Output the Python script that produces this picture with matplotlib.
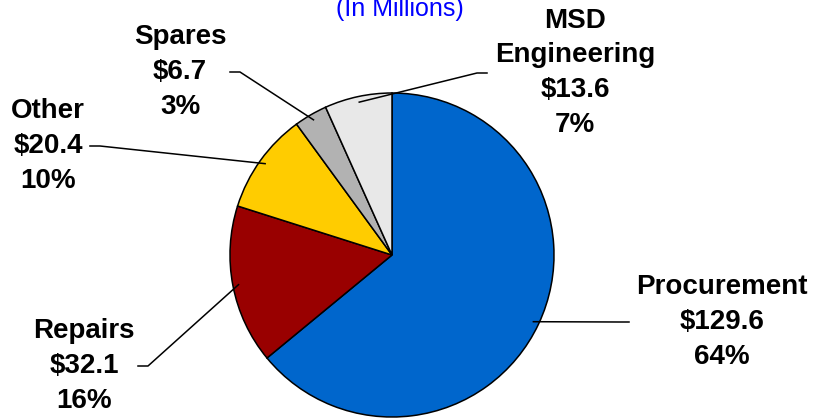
import matplotlib
matplotlib.use("Agg")
import matplotlib.pyplot as plt
import numpy as np

categories = ["Procurement", "Repairs", "Other", "Spares", "MSD\nEngineering"]
amounts = [129.6, 32.1, 20.4, 6.7, 13.6]
percents = ["64%", "16%", "10%", "3%", "7%"]
colors = ["#0066CC", "#990000", "#FFCC00", "#B2B2B2", "#E8E8E8"]

W, H = 815, 420
cx, cy, R = 392, 255, 162

# label centre (x, y of middle) and where the leader starts (pixel coords, y down)
label_pos = [(722, 322), (84, 366), (48, 146), (180, 72), (575, 73)]
leader_start = [(629, 322), (138, 366), (90, 146), (230, 72), (487, 73)]

plt.rcParams["font.family"] = ["Liberation Sans", "DejaVu Sans"]

fig = plt.figure(figsize=(W / 100, H / 100), dpi=100)
ax = fig.add_axes([0, 0, 1, 1])

wedges, _ = ax.pie(amounts, colors=colors, startangle=90, counterclock=False,
                   center=(cx, H - cy), radius=R,
                   wedgeprops=dict(edgecolor="black", linewidth=1.1))
ax.set_xlim(0, W)
ax.set_ylim(0, H)
ax.set_aspect("equal")
ax.axis("off")

for i, w in enumerate(wedges):
    mid = np.deg2rad((w.theta1 + w.theta2) / 2)
    ex = cx + 0.965 * R * np.cos(mid)
    ey = (H - cy) + 0.965 * R * np.sin(mid)
    sx, sy = leader_start[i]
    step = -10 if sx > cx else 10
    ax.plot([sx, sx + step, ex], [H - sy, H - sy, ey], color="black", lw=1.1)
    lx, ly = label_pos[i]
    txt = f"{categories[i]}\n${amounts[i]:.1f}\n{percents[i]}"
    ax.text(lx, H - ly, txt, ha="center", va="center", fontsize=20,
            fontweight="bold", linespacing=1.45)

fig.text(400 / W, 1 - 16 / H, "(In Millions)", ha="center", va="baseline",
         fontsize=18, color="#0000FF")

fig.savefig("out.png", dpi=100)
